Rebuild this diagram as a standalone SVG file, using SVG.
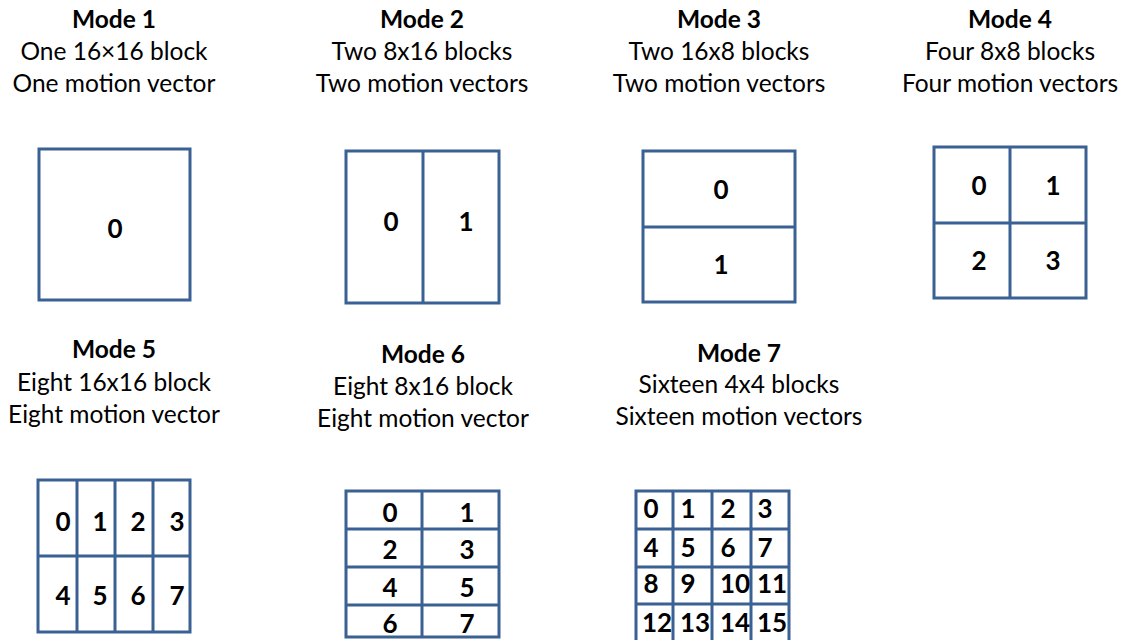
<svg xmlns="http://www.w3.org/2000/svg" width="1123" height="640" viewBox="0 0 1123 640">
<style>
.t{font-family:Lato,"Liberation Sans",sans-serif;font-size:24.5px;fill:#000;text-anchor:middle}
.h{font-weight:bold}
.d{font-family:Lato,"Liberation Sans",sans-serif;font-size:26px;font-weight:bold;fill:#000;text-anchor:middle}
.b{fill:#fff;stroke:#3A6094;stroke-width:3}
.l{stroke:#3A6094;stroke-width:3;fill:none}
</style>
<rect width="1123" height="640" fill="#fff"/>
<g id="mode1">
<text class="t h" x="114" y="28">Mode 1</text>
<text class="t" x="114" y="60">One 16×16 block</text>
<text class="t" x="114" y="92">One motion vector</text>
<rect class="b" x="39" y="149" width="151" height="151"/>
<text class="d" x="115" y="238">0</text>
</g>
<g id="mode2">
<text class="t h" x="422" y="28">Mode 2</text>
<text class="t" x="422" y="60">Two 8x16 blocks</text>
<text class="t" x="422" y="92">Two motion vectors</text>
<rect class="b" x="346" y="151" width="153" height="152"/>
<line class="l" x1="423" y1="151" x2="423" y2="303"/>
<text class="d" x="391" y="231">0</text>
<text class="d" x="466" y="231">1</text>
</g>
<g id="mode3">
<text class="t h" x="719" y="28">Mode 3</text>
<text class="t" x="719" y="60">Two 16x8 blocks</text>
<text class="t" x="719" y="92">Two motion vectors</text>
<rect class="b" x="643" y="151" width="152" height="151"/>
<line class="l" x1="643" y1="227" x2="795" y2="227"/>
<text class="d" x="721" y="199">0</text>
<text class="d" x="721" y="274">1</text>
</g>
<g id="mode4">
<text class="t h" x="1010" y="28">Mode 4</text>
<text class="t" x="1010" y="60">Four 8x8 blocks</text>
<text class="t" x="1010" y="92">Four motion vectors</text>
<rect class="b" x="934" y="147" width="152" height="151"/>
<line class="l" x1="1010" y1="147" x2="1010" y2="298"/>
<line class="l" x1="934" y1="223" x2="1086" y2="223"/>
<text class="d" x="979" y="195">0</text>
<text class="d" x="1053" y="195">1</text>
<text class="d" x="979" y="270">2</text>
<text class="d" x="1053" y="270">3</text>
</g>
<g id="mode5">
<text class="t h" x="114" y="358">Mode 5</text>
<text class="t" x="114" y="391">Eight 16x16 block</text>
<text class="t" x="114" y="423">Eight motion vector</text>
<rect class="b" x="38" y="480" width="152" height="152"/>
<line class="l" x1="77" y1="480" x2="77" y2="632"/>
<line class="l" x1="115" y1="480" x2="115" y2="632"/>
<line class="l" x1="153" y1="480" x2="153" y2="632"/>
<line class="l" x1="38" y1="556" x2="190" y2="556"/>
<text class="d" x="63" y="531">0</text>
<text class="d" x="100" y="531">1</text>
<text class="d" x="138" y="531">2</text>
<text class="d" x="177" y="531">3</text>
<text class="d" x="63" y="605">4</text>
<text class="d" x="100" y="605">5</text>
<text class="d" x="138" y="605">6</text>
<text class="d" x="177" y="605">7</text>
</g>
<g id="mode6">
<text class="t h" x="423" y="363">Mode 6</text>
<text class="t" x="423" y="395">Eight 8x16 block</text>
<text class="t" x="423" y="427">Eight motion vector</text>
<rect class="b" x="346" y="491" width="153" height="146"/>
<line class="l" x1="422" y1="491" x2="422" y2="637"/>
<line class="l" x1="346" y1="529" x2="499" y2="529"/>
<line class="l" x1="346" y1="567" x2="499" y2="567"/>
<line class="l" x1="346" y1="605" x2="499" y2="605"/>
<text class="d" x="390" y="522">0</text>
<text class="d" x="467" y="522">1</text>
<text class="d" x="390" y="559">2</text>
<text class="d" x="467" y="559">3</text>
<text class="d" x="390" y="597">4</text>
<text class="d" x="467" y="597">5</text>
<text class="d" x="390" y="633">6</text>
<text class="d" x="467" y="633">7</text>
</g>
<g id="mode7">
<text class="t h" x="739" y="362">Mode 7</text>
<text class="t" x="739" y="393">Sixteen 4x4 blocks</text>
<text class="t" x="739" y="425">Sixteen motion vectors</text>
<rect class="b" x="636" y="491" width="153" height="152"/>
<line class="l" x1="673" y1="491" x2="673" y2="643"/>
<line class="l" x1="712" y1="491" x2="712" y2="643"/>
<line class="l" x1="751" y1="491" x2="751" y2="643"/>
<line class="l" x1="636" y1="529" x2="789" y2="529"/>
<line class="l" x1="636" y1="567" x2="789" y2="567"/>
<line class="l" x1="636" y1="604" x2="789" y2="604"/>
<text class="d" x="651" y="518">0</text>
<text class="d" x="688" y="518">1</text>
<text class="d" x="728" y="518">2</text>
<text class="d" x="765" y="518">3</text>
<text class="d" x="651" y="557">4</text>
<text class="d" x="688" y="557">5</text>
<text class="d" x="728" y="557">6</text>
<text class="d" x="765" y="557">7</text>
<text class="d" x="651" y="593">8</text>
<text class="d" x="688" y="593">9</text>
<text class="d" x="735" y="593">10</text>
<text class="d" x="772" y="593">11</text>
<text class="d" x="657" y="632">12</text>
<text class="d" x="695" y="632">13</text>
<text class="d" x="735" y="632">14</text>
<text class="d" x="772" y="632">15</text>
</g>
</svg>
